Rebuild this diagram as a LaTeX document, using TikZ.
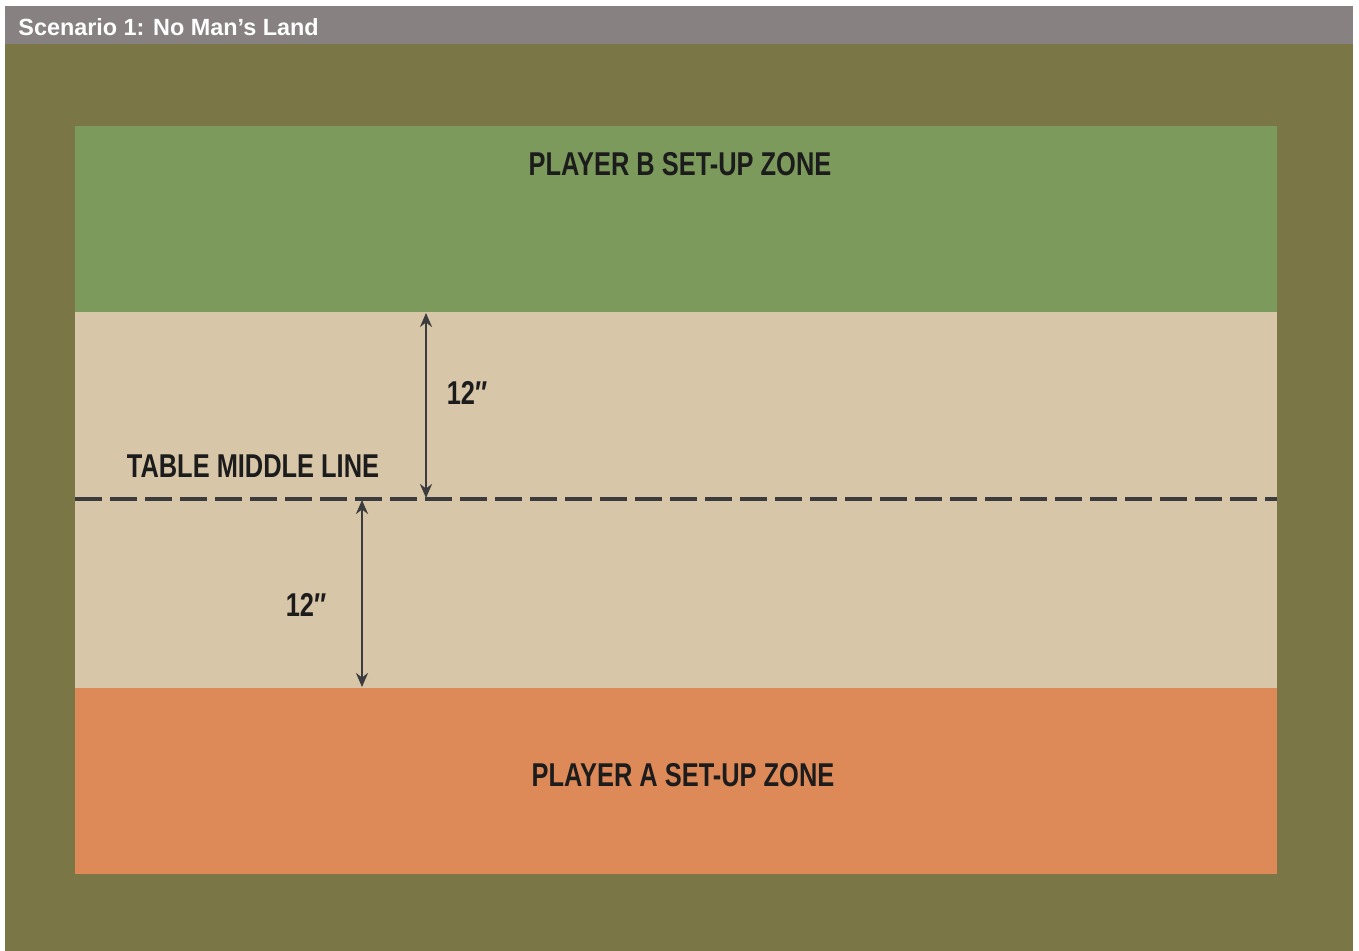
\documentclass[tikz,border=0pt]{standalone}
\usepackage{fontspec}
\setmainfont{Liberation Sans}
\newfontfamily\narrowfont[FakeStretch=0.77]{Liberation Sans}
\usetikzlibrary{arrows.meta,positioning,calc}
\definecolor{header}{HTML}{878281}
\definecolor{olive}{HTML}{7B7646}
\definecolor{zoneb}{HTML}{7C9A5B}
\definecolor{sand}{HTML}{D8C6A8}
\definecolor{zonea}{HTML}{DE8A58}
\definecolor{inkc}{HTML}{3C3C3E}
\definecolor{textc}{HTML}{1C1C1C}
\tikzset{
  zlabel/.style={font=\narrowfont\bfseries\fontsize{16.5}{18}\selectfont,text=textc,inner sep=0pt},
  mlabel/.style={zlabel},
  dimlabel/.style={zlabel},
  title/.style={font=\bfseries\fontsize{11.7}{13}\selectfont,text=white,inner sep=0pt,anchor=west},
  measure/.style={draw=inkc,line width=1.2pt,{Stealth[length=7pt,width=6pt]}-{Stealth[length=7pt,width=6pt]}},
  midline/.style={draw=inkc,line width=1.6pt,dash pattern=on 13.5pt off 4pt},
}
\begin{document}
\begin{tikzpicture}[x=0.5pt,y=-0.5pt]
  \useasboundingbox (0,0) rectangle (1359,951);
  % frame and heading
  \fill[header] (5,6) rectangle (1353,44);
  \fill[olive] (5,44) rectangle (1353,951);
  \node[title] (head) at (18,27) {Scenario 1: No Man’s Land};
  % the table
  \fill[zoneb] (75,126) rectangle (1277,312);
  \fill[sand] (75,312) rectangle (1277,688);
  \fill[zonea] (75,688) rectangle (1277,874);
  \coordinate (ml-w) at (75,499);
  \coordinate (ml-e) at (1277,499);
  \draw[midline] (ml-w) -- (ml-e);
  \node[zlabel] (zb) at (680,164) {PLAYER B SET-UP ZONE};
  \node[zlabel] (za) at (683,775) {PLAYER A SET-UP ZONE};
  \node[mlabel] (ml) at (253,466) {TABLE MIDDLE LINE};
  % distances to the middle line
  \coordinate (b-top) at (426,313);
  \coordinate (b-bot) at (426,498);
  \coordinate (a-top) at (362,500);
  \coordinate (a-bot) at (362,687);
  \draw[measure] (b-top) -- (b-bot);
  \draw[measure] (a-top) -- (a-bot);
  \node[dimlabel] (db) at (467,393) {12″};
  \node[dimlabel] (da) at (306,605) {12″};
\end{tikzpicture}
\end{document}
